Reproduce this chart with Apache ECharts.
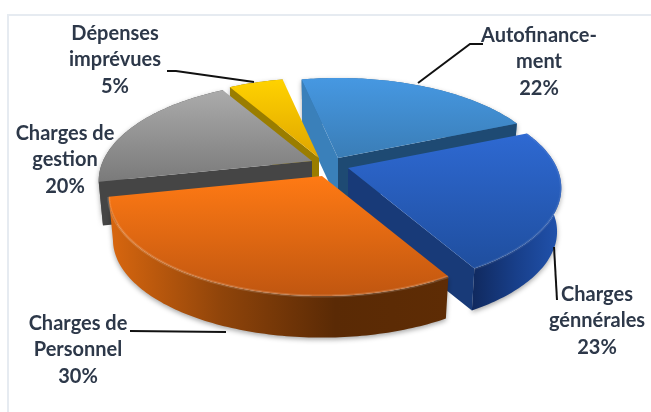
<!DOCTYPE html>
<html>
<head>
<meta charset="utf-8">
<style>
  html, body { margin: 0; padding: 0; background: #fff; }
  #chart { width: 651px; height: 412px; }
</style>
</head>
<body>
<div id="chart"></div>
<script src="https://cdn.jsdelivr.net/npm/echarts@6/dist/echarts.min.js"></script>
<script>
const categories = ['Autofinance-\nment', 'Charges\ngénnérales', 'Charges de\nPersonnel', 'Charges de\ngestion', 'Dépenses\nimprévues']
const values = [22, 23, 30, 20, 5]

// look of each slice, same order as categories
const topColors = [['#4698E2', '#3A7DB6'], ['#2E69D2', '#1F4E9E'], ['#FF7A14', '#C05610'], ['#ABABAB', '#7A7A7A'], ['#FFD200', '#DFA500']]
const outerColors = [['#2F6A9E', '#2F6A9E'], ['#10295E', '#183F8A', '#2153AE'], ['#D9670F', '#8F440A', '#5A2A05', '#5E2C05'], ['#5A5A5A', '#444444'], ['#8F7400', '#8F7400']]
const startWallColors = ['#3A80BA', '#183A78', '#7A3A08', '#454545', '#9A7D00']
const endWallColors = ['#1E4A73', '#183A78', '#5A2A05', '#454545', '#A88900']
const rimAlpha = [0, 0.08, 0.14, 0, 0]
const drawOrder = [0, 3, 4, 2, 1]
const sliceOffsets = [[8, -7], [18, 3], [-8, 11], [-18, -4], [-11, -7]]

// label layout, same order as categories
const labelCenters = [[539, 22], [597, 281], [78, 310], [65, 120], [115, 20]]
const leaders = [
  [[418, 83], [470, 44], [483, 44]],
  [[554, 247], [557, 300]],
  [[130, 331], [226, 332]],
  [],
  [[167, 71], [176, 71], [254, 82]]
]

// perspective model of the pie
const startAngle = 258
const center = [330, 165]
const radiusX = 209
const radiusY = 96
const tilt = 0.2
const depth = 44
const bottomScale = 0.98

const total = values.reduce((a, b) => a + b, 0)

function project(deg, apex, scale, drop) {
  const a = deg * Math.PI / 180
  const w = 1 - tilt * Math.sin(a)
  return [
    apex[0] + scale * radiusX * Math.cos(a) / w,
    apex[1] + drop + scale * radiusY * Math.sin(a) / w
  ]
}

function arc(from, to, apex, scale, drop) {
  const pts = []
  const n = Math.ceil(to - from)
  for (let i = 0; i <= n; i++) {
    pts.push(project(from + (to - from) * i / n, apex, scale, drop))
  }
  return pts
}

function stops(c) {
  return c.map((color, k) => ({ offset: k / (c.length - 1), color: color }))
}
function vGrad(c) {
  return new echarts.graphic.LinearGradient(0, 0, 0, 1, stops(c))
}
function hGrad(c) {
  return new echarts.graphic.LinearGradient(0, 0, 1, 0, stops(c))
}

function facesViewer(deg) {
  return Math.sin(deg * Math.PI / 180) > 0
}

function renderSlice(params, api) {
  const i = params.dataIndex
  let sum = 0
  for (let k = 0; k < i; k++) sum += values[k]
  const from = startAngle + sum / total * 360
  const to = from + api.value(0) / total * 360
  const apex = [center[0] + sliceOffsets[i][0], center[1] + sliceOffsets[i][1]]
  const low = [apex[0], apex[1] + depth]
  const topArc = arc(from, to, apex, 1, 0)
  const lowArc = arc(from, to, apex, bottomScale, depth)
  const z = drawOrder[i] * 10
  const children = []

  children.push({
    type: 'polygon', z2: z,
    shape: { points: topArc.concat(lowArc.slice().reverse()) },
    style: { fill: hGrad(outerColors[i]), shadowBlur: 5, shadowColor: 'rgba(0,0,0,0.35)', shadowOffsetY: 2 }
  })
  // only the radial walls turned towards us are drawn
  if (facesViewer(from - 90)) {
    children.push({
      type: 'polygon', z2: z + 1,
      shape: { points: [apex, topArc[0], lowArc[0], low] },
      style: { fill: startWallColors[i] }
    })
  }
  if (facesViewer(to + 90)) {
    children.push({
      type: 'polygon', z2: z + 2,
      shape: { points: [apex, topArc[topArc.length - 1], lowArc[lowArc.length - 1], low] },
      style: { fill: endWallColors[i] }
    })
  }
  children.push({
    type: 'polygon', z2: z + 3,
    shape: { points: [apex].concat(topArc) },
    style: { fill: vGrad(topColors[i]) }
  })
  if (rimAlpha[i]) {
    children.push({
      type: 'polyline', z2: z + 4,
      shape: { points: topArc },
      style: {
        fill: 'none',
        stroke: 'rgba(255,255,255,' + rimAlpha[i] + ')',
        lineWidth: 3,
        shadowBlur: 4,
        shadowColor: 'rgba(255,255,255,' + rimAlpha[i] + ')'
      }
    })
  }

  if (leaders[i].length) {
    children.push({
      type: 'polyline', z2: 100,
      shape: { points: leaders[i] },
      style: { fill: 'none', stroke: '#111', lineWidth: 2 }
    })
  }
  children.push({
    type: 'text', z2: 101,
    style: {
      text: categories[i] + '\n' + api.value(0) + '%',
      x: labelCenters[i][0],
      y: labelCenters[i][1],
      fill: '#2D3849',
      font: 'bold 20px Lato',
      lineHeight: 26.5,
      align: 'center',
      verticalAlign: 'top'
    }
  })
  return { type: 'group', children: children }
}

const myChart = echarts.init(document.getElementById('chart'))
myChart.setOption({
  animation: false,
  backgroundColor: '#fff',
  graphic: [{
    type: 'polyline',
    shape: { points: [[8, 412], [8, 15], [651, 15]] },
    style: { fill: 'none', stroke: '#E6EBF1', lineWidth: 2 }
  }],
  series: [{
    type: 'custom',
    coordinateSystem: 'none',
    silent: true,
    renderItem: renderSlice,
    data: values.map(v => [v])
  }]
})
</script>
</body>
</html>
